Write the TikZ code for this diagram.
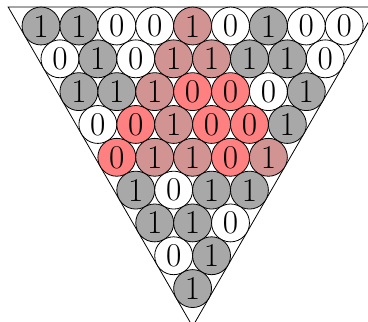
\documentclass[tikz,border=0pt]{standalone}
\definecolor{cgray}{RGB}{168,168,168}
\definecolor{cpink}{RGB}{210,147,147}
\definecolor{cred}{RGB}{255,128,128}
\begin{document}
\begin{tikzpicture}[x=0.5cm,y=0.5cm,
  cell/.style={circle,draw,line width=0.6pt,minimum size=1cm,inner sep=0pt,font=\fontsize{25}{25}\selectfont},
  G/.style={cell,fill=cgray},
  W/.style={cell,fill=white},
  P/.style={cell,fill=cpink},
  R/.style={cell,fill=cred}]
\useasboundingbox (-2.164,-15.62) rectangle (17.256,1.372);
\coordinate (TL) at (-1.7320508,1);
\coordinate (TR) at (17.7320508,1);
\coordinate (B) at (8,-15.8564);
\draw[line width=0.6pt] (TL) -- (TR) -- (B) -- cycle;
\foreach \i/\j/\d/\s in {
 0/0/1/G,0/1/1/G,0/2/0/W,0/3/0/W,0/4/1/P,0/5/0/W,0/6/1/G,0/7/0/W,0/8/0/W,
 1/0/0/W,1/1/1/G,1/2/0/W,1/3/1/P,1/4/1/P,1/5/1/G,1/6/1/G,1/7/0/W,
 2/0/1/G,2/1/1/G,2/2/1/P,2/3/0/R,2/4/0/R,2/5/0/W,2/6/1/G,
 3/0/0/W,3/1/0/R,3/2/1/P,3/3/0/R,3/4/0/R,3/5/1/G,
 4/0/0/R,4/1/1/P,4/2/1/P,4/3/0/R,4/4/1/P,
 5/0/1/G,5/1/0/W,5/2/1/G,5/3/1/G,
 6/0/1/G,6/1/1/G,6/2/0/W,
 7/0/0/W,7/1/1/G,
 8/0/1/G}
 \node[\s] (c-\i-\j) at ({2*\j+\i},{-1.7320508*\i}) {\d};
\end{tikzpicture}
\end{document}
